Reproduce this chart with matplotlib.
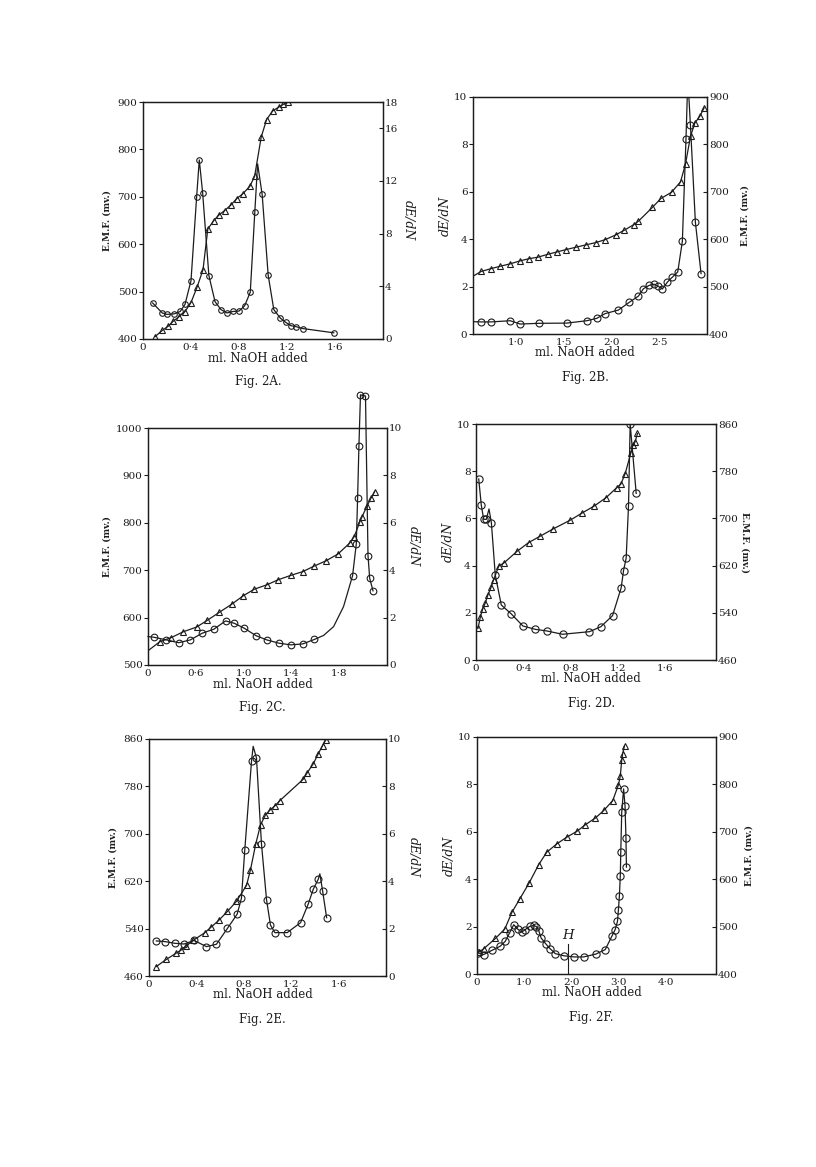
import matplotlib
matplotlib.use('Agg')
import matplotlib.pyplot as plt

plt.rcParams['font.family'] = 'DejaVu Serif'

INK = '#1c1c1c'
W, H = 816, 1167

# ---- Fig. 2A: EMF (triangles, left), dE/dN (circles, right)
a_tri_x = [0.10, 0.16, 0.21, 0.25, 0.30, 0.35, 0.40, 0.45, 0.50, 0.54, 0.59, 0.63, 0.68,
           0.73, 0.78, 0.83, 0.89, 0.93, 0.985, 1.03, 1.08, 1.13, 1.17, 1.21]
a_tri_emf = [405, 418, 427, 437, 447, 458, 477, 509, 546, 632, 650, 661, 671,
             682, 696, 706, 722, 743, 826, 863, 881, 889, 895, 900]
a_circ_x = [0.08, 0.16, 0.20, 0.26, 0.31, 0.35, 0.40, 0.447, 0.469, 0.497, 0.549, 0.60, 0.65,
            0.70, 0.75, 0.80, 0.847, 0.894, 0.932, 0.993, 1.043, 1.09, 1.145, 1.19, 1.233,
            1.274, 1.335, 1.59]
a_circ_dedn = [2.74, 1.98, 1.87, 1.91, 2.09, 2.63, 4.43, 10.8, 13.6, 11.1, 4.82, 2.84, 2.23,
               1.98, 2.09, 2.12, 2.52, 3.56, 9.68, 10.98, 4.86, 2.23, 1.58, 1.26, 1.01,
               0.94, 0.79, 0.47]
a_circ_curve = [(0.955, 13.3)]

# ---- Fig. 2B: dE/dN (circles, left), EMF (triangles, right)
b_circ_x = [0.636, 0.74, 0.938, 1.042, 1.233, 1.528, 1.736, 1.84, 1.927, 2.066, 2.181, 2.275,
            2.327, 2.386, 2.438, 2.483, 2.525, 2.577, 2.629, 2.685, 2.733, 2.771, 2.817,
            2.869, 2.928]
b_circ_dedn = [0.51, 0.51, 0.56, 0.42, 0.45, 0.46, 0.56, 0.66, 0.86, 1.01, 1.34, 1.60,
               1.91, 2.05, 2.10, 2.01, 1.90, 2.19, 2.40, 2.62, 3.91, 8.24, 8.83,
               4.71, 2.55]
b_circ_curve = [(0.55, 0.52), (2.79, 10.8)]
b_tri_x = [0.636, 0.74, 0.834, 0.938, 1.035, 1.136, 1.226, 1.327, 1.424, 1.518, 1.622, 1.726,
           1.834, 1.927, 2.038, 2.128, 2.229, 2.275, 2.42, 2.51, 2.62, 2.714, 2.766, 2.818,
           2.863, 2.914, 2.96]
b_tri_emf = [532, 538, 543, 548, 554, 559, 562, 568, 573, 578, 583, 588,
             593, 599, 609, 619, 631, 638, 667, 686, 699, 721, 759, 817,
             845, 859, 877]
b_tri_curve = [(0.55, 522)]

# ---- Fig. 2C: EMF (triangles, left), dE/dN (circles, right)
c_tri_x = [0.298, 0.396, 0.494, 0.606, 0.695, 0.796, 0.899, 0.997, 1.09, 1.193, 1.291, 1.394,
           1.495, 1.585, 1.691, 1.789, 1.887, 1.926, 1.971, 1.99, 2.032, 2.066, 2.097]
c_tri_emf = [549, 558, 570, 580, 594, 611, 628, 646, 660, 669, 680, 689,
             697, 708, 720, 734, 757, 771, 801, 812, 835, 852, 866]
c_tri_curve = [(0.2, 530)]
c_circ_x = [0.25, 0.354, 0.457, 0.555, 0.653, 0.751, 0.849, 0.922, 1.006, 1.103, 1.193, 1.296,
            1.394, 1.495, 1.593, 1.912, 1.943, 1.954, 1.965, 1.978, 2.02, 2.041, 2.055, 2.083]
c_circ_dedn = [1.17, 1.06, 0.94, 1.06, 1.34, 1.51, 1.86, 1.76, 1.55, 1.24, 1.06, 0.92,
               0.85, 0.89, 1.08, 3.77, 5.11, 7.04, 9.23, 11.4, 11.35, 4.62, 3.66, 3.13]
c_circ_curve = [(0.2, 1.2), (1.67, 1.25), (1.753, 1.62), (1.836, 2.46)]

# ---- Fig. 2D: dE/dN (circles, left), EMF (triangles, right)
d_circ_x = [0.023, 0.045, 0.065, 0.087, 0.13, 0.163, 0.214, 0.299, 0.397, 0.501, 0.60, 0.732,
            0.96, 1.056, 1.155, 1.228, 1.248, 1.27, 1.29, 1.304, 1.355]
d_circ_dedn = [7.67, 6.55, 5.96, 5.96, 5.82, 3.6, 2.33, 1.95, 1.44, 1.30, 1.23, 1.09,
               1.20, 1.41, 1.88, 3.06, 3.79, 4.31, 6.53, 10.0, 7.06]
d_circ_curve = [(0.11, 6.4)]
d_tri_x = [0.017, 0.037, 0.056, 0.079, 0.10, 0.127, 0.149, 0.192, 0.239, 0.346, 0.445, 0.544,
           0.651, 0.797, 0.896, 1.0, 1.099, 1.19, 1.225, 1.262, 1.31, 1.327, 1.346, 1.366]
d_tri_emf = [514, 533, 546, 557, 570, 583, 596, 619, 625, 644, 659, 670,
             682, 697, 709, 721, 735, 752, 758, 776, 811, 824, 830, 844]

# ---- Fig. 2E: EMF (triangles, left), dE/dN (circles, right)
e_tri_x = [0.062, 0.146, 0.225, 0.273, 0.315, 0.372, 0.47, 0.527, 0.589, 0.662, 0.738, 0.823,
           0.856, 0.901, 0.941, 0.983, 1.02, 1.062, 1.104, 1.301, 1.335, 1.386, 1.428, 1.465,
           1.493]
e_tri_emf = [476, 488, 498, 504, 511, 520, 533, 543, 554, 569, 586, 613,
             639, 683, 715, 732, 740, 747, 756, 792, 803, 818, 835, 849, 859]
e_tri_curve = [(1.52, 868)]
e_circ_x = [0.062, 0.138, 0.217, 0.296, 0.38, 0.485, 0.569, 0.662, 0.744, 0.78, 0.808, 0.865,
            0.907, 0.949, 0.992, 1.025, 1.062, 1.166, 1.279, 1.344, 1.386, 1.428, 1.465, 1.499]
e_circ_dedn = [1.48, 1.45, 1.38, 1.35, 1.50, 1.24, 1.34, 2.01, 2.61, 3.28, 5.30, 9.06,
               9.20, 5.58, 3.21, 2.15, 1.83, 1.83, 2.25, 3.04, 3.66, 4.08, 3.59, 2.46]
e_circ_curve = [(0.879, 9.69), (1.442, 4.31)]

# ---- Fig. 2F: dE/dN (circles, left), EMF (triangles, right)
f_circ_x = [0.02, 0.14, 0.32, 0.49, 0.60, 0.69, 0.78, 0.86, 0.95, 1.02, 1.12, 1.20, 1.26,
            1.31, 1.36, 1.46, 1.55, 1.66, 1.84, 2.06, 2.26, 2.52, 2.72, 2.86, 2.93, 2.98,
            3.00, 3.02, 3.04, 3.05, 3.07, 3.11, 3.14, 3.16, 3.17]
f_circ_dedn = [0.89, 0.82, 1.0, 1.17, 1.38, 1.73, 2.08, 1.9, 1.77, 1.87, 2.01, 2.05, 2.0,
               1.83, 1.52, 1.27, 1.07, 0.86, 0.77, 0.72, 0.72, 0.84, 1.03, 1.59, 1.87, 2.22,
               2.71, 3.28, 4.15, 5.13, 6.82, 7.81, 7.1, 5.73, 4.51]
f_tri_x = [0.035, 0.14, 0.39, 0.59, 0.74, 0.905, 1.10, 1.31, 1.48, 1.70, 1.91, 2.12, 2.30,
           2.51, 2.69, 2.88, 3.0, 3.04, 3.07, 3.09, 3.13]
f_tri_emf = [446, 453, 475, 495, 530, 558, 591, 631, 657, 675, 689, 701, 715,
             729, 745, 766, 799, 818, 851, 865, 882]
f_h_x = 1.94
f_h_top = 1.25


def merged(xs, ys, extra):
    pts = sorted(list(zip(xs, ys)) + list(extra))
    return [p[0] for p in pts], [p[1] for p in pts]


def px_rect(left, top, right, bottom):
    return [left / W, 1 - bottom / H, (right - left) / W, (bottom - top) / H]


def side_label(ax, text, side, dist, **kw):
    x = 0 if side == 'left' else 1
    sgn = -1 if side == 'left' else 1
    ax.annotate(text, xy=(x, 0.5), xycoords='axes fraction',
                xytext=(sgn * dist * 0.72, 0), textcoords='offset points',
                ha='center', va='center', color=INK, **kw)


def panel(rect, xlim, xticks, xlabels, emf_side, emf_lim, emf_ticks, dedn_lim, dedn_ticks,
          tri, circ, caption, tri_ms=4, circ_ms=4.5, emf_dist=36, dedn_dist=27,
          emf_rot=90, dedn_rot=270, circ_clip=True):
    ax = fig.add_axes(rect)
    tw = ax.twinx()
    if emf_side == 'left':
        emf_ax, dedn_ax = ax, tw
    else:
        emf_ax, dedn_ax = tw, ax
    ax.set_xlim(*xlim)
    ax.set_xticks(xticks)
    ax.set_xticklabels(xlabels)
    emf_ax.set_ylim(*emf_lim)
    emf_ax.set_yticks(emf_ticks)
    dedn_ax.set_ylim(*dedn_lim)
    dedn_ax.set_yticks(dedn_ticks)

    tx, ty, textra = tri
    lx, ly = merged(tx, ty, textra)
    emf_ax.plot(lx, ly, color=INK, lw=0.9)
    emf_ax.plot(tx, ty, ls='none', marker='^', ms=tri_ms, mfc='none', mec=INK, mew=0.8)

    cx, cy, cextra = circ
    lx, ly = merged(cx, cy, cextra)
    dedn_ax.plot(lx, ly, color=INK, lw=0.9, clip_on=circ_clip)
    dedn_ax.plot(cx, cy, ls='none', marker='o', ms=circ_ms, mfc='none', mec=INK, mew=0.8,
                 clip_on=circ_clip)

    for a in (ax, tw):
        for s in a.spines.values():
            s.set_color(INK)
            s.set_linewidth(0.9)
    ax.tick_params(axis='y', direction='out', length=3, width=0.8, pad=1,
                   labelsize=7.5, colors=INK)
    tw.tick_params(axis='y', direction='in', length=3, width=0.8, pad=1.5,
                   labelsize=7.5, colors=INK)
    ax.tick_params(axis='x', length=0, pad=3, labelsize=7.5, colors=INK)

    emf_txt = 'E.M.F. (mv.)'
    side_label(ax, emf_txt, emf_side, emf_dist, fontsize=6.5, fontweight='bold',
               rotation=emf_rot)
    dside = 'right' if emf_side == 'left' else 'left'
    side_label(ax, 'dE/dN', dside, dedn_dist, fontsize=9, fontstyle='italic',
               rotation=dedn_rot)

    ax.annotate('ml. NaOH added', xy=(0.48, 0), xycoords='axes fraction',
                xytext=(0, -19 * 0.72), textcoords='offset points',
                ha='center', va='center', fontsize=8.5, color=INK)
    ax.annotate(caption, xy=(0.48, 0), xycoords='axes fraction',
                xytext=(0, -43 * 0.72), textcoords='offset points',
                ha='center', va='center', fontsize=8.5, color=INK)
    return ax, tw


fig = plt.figure(figsize=(W / 100, H / 100), dpi=100)
fig.patch.set_facecolor('white')

x04 = [0, 0.4, 0.8, 1.2, 1.6]
l04 = ['0', '0·4', '0·8', '1·2', '1·6']

panel(px_rect(143, 102, 383, 339), (0, 2.0), x04, l04, 'left',
      (400, 900), range(400, 901, 100), (0, 18), [0, 4, 8, 12, 16, 18],
      (a_tri_x, a_tri_emf, []), (a_circ_x, a_circ_dedn, a_circ_curve), 'Fig. 2A.',
      tri_ms=4, circ_ms=4, emf_dist=36, dedn_dist=25)

panel(px_rect(473, 97, 707, 334), (0.55, 2.99), [1.0, 1.5, 2.0, 2.5],
      ['1·0', '1·5', '2·0', '2·5'], 'right',
      (400, 900), range(400, 901, 100), (0, 10), range(0, 11, 2),
      (b_tri_x, b_tri_emf, b_tri_curve), (b_circ_x, b_circ_dedn, b_circ_curve), 'Fig. 2B.',
      tri_ms=3.8, circ_ms=5, emf_dist=38, dedn_dist=28, emf_rot=90, dedn_rot=90)

panel(px_rect(148, 428, 387, 665), (0.2, 2.2), [0.2, 0.6, 1.0, 1.4, 1.8],
      ['0', '0·6', '1·0', '1·4', '1·8'], 'left',
      (500, 1000), range(500, 1001, 100), (0, 10), range(0, 11, 2),
      (c_tri_x, c_tri_emf, c_tri_curve), (c_circ_x, c_circ_dedn, c_circ_curve), 'Fig. 2C.',
      tri_ms=4, circ_ms=4.8, emf_dist=41, dedn_dist=26, circ_clip=False)

panel(px_rect(476, 424, 716, 660), (0, 2.03), x04, l04, 'right',
      (460, 860), range(460, 861, 80), (0, 10), range(0, 11, 2),
      (d_tri_x, d_tri_emf, []), (d_circ_x, d_circ_dedn, d_circ_curve), 'Fig. 2D.',
      tri_ms=4, circ_ms=5.2, emf_dist=29, dedn_dist=28, emf_rot=270, dedn_rot=90)

panel(px_rect(149, 739, 386, 976), (0, 2.0), x04, l04, 'left',
      (460, 860), range(460, 861, 80), (0, 10), range(0, 11, 2),
      (e_tri_x, e_tri_emf, e_tri_curve), (e_circ_x, e_circ_dedn, e_circ_curve), 'Fig. 2E.',
      tri_ms=4, circ_ms=5, emf_dist=36, dedn_dist=27)

axf, twf = panel(px_rect(477, 737, 716, 974), (0, 5.07), [0, 1, 2, 3, 4],
                 ['0', '1·0', '2·0', '3·0', '4·0'], 'right',
                 (400, 900), range(400, 901, 100), (0, 10), range(0, 11, 2),
                 (f_tri_x, f_tri_emf, []), (f_circ_x, f_circ_dedn, []), 'Fig. 2F.',
                 tri_ms=4.2, circ_ms=5.2, emf_dist=33, dedn_dist=28, emf_rot=90, dedn_rot=90)
axf.plot([f_h_x, f_h_x], [0, f_h_top], color=INK, lw=0.8)
axf.text(f_h_x, f_h_top + 0.12, 'H', ha='center', va='bottom', fontsize=9.5,
         fontstyle='italic', color=INK)

fig.savefig('out.png', dpi=100, facecolor='white')
